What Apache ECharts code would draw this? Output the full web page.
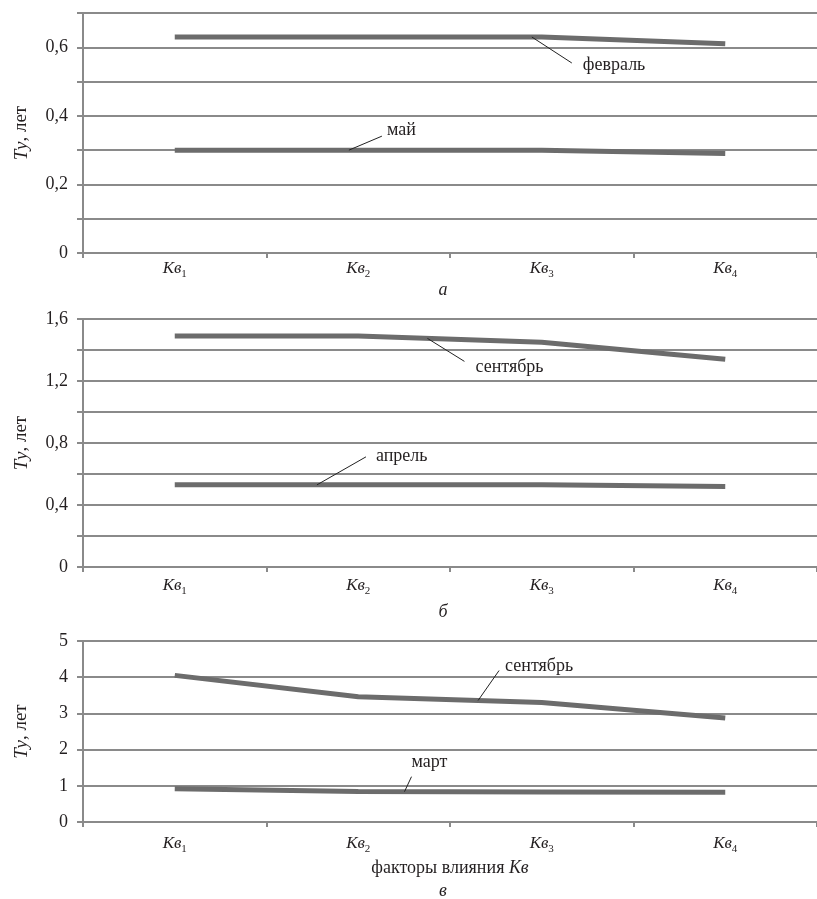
<!DOCTYPE html>
<html>
<head>
<meta charset="utf-8">
<script src="https://cdn.jsdelivr.net/npm/echarts@6/dist/echarts.min.js"></script>
<style>
html,body{margin:0;padding:0;background:#fff;}
#chart{width:817px;height:899px;}
</style>
</head>
<body>
<div id="chart"></div>
<script>
// ---- data ----
const categories = ['Кв1', 'Кв2', 'Кв3', 'Кв4'];
// panel а
const febA = [0.63, 0.63, 0.63, 0.61];
const mayA = [0.30, 0.30, 0.30, 0.29];
// panel б
const sepB = [1.49, 1.49, 1.45, 1.34];
const aprB = [0.53, 0.53, 0.53, 0.52];
// panel в
const sepC = [4.05, 3.46, 3.30, 2.87];
const marC = [0.92, 0.84, 0.83, 0.82];
const panelCaptions = ['а', 'б', 'в'];

const FONT = "'Liberation Serif','Times New Roman',serif";
const TXT = '#231f20';
const GRID_C = '#8a8a8a';
const LINE_C = '#6c6c6c';

const grids = [
  {left: 83, top: 13, width: 738, height: 240},
  {left: 83, top: 319, width: 738, height: 248},
  {left: 83, top: 641, width: 738, height: 181}
];

function catLabel(v) {
  return '{i|' + v.slice(0, 2) + '}{s|' + v.slice(2) + '}';
}
const catRich = {
  i: {fontFamily: FONT, fontStyle: 'italic', fontSize: 17, color: TXT, lineHeight: 19, padding: [0, 0, 3, 0], verticalAlign: 'bottom'},
  s: {fontFamily: FONT, fontSize: 11, color: TXT, lineHeight: 12, verticalAlign: 'bottom'}
};

function xAxisFor(gi, margin, extra) {
  return Object.assign({
    type: 'category', gridIndex: gi, data: categories, boundaryGap: true,
    axisLine: {lineStyle: {color: GRID_C, width: 2}},
    axisTick: {show: true, length: 5, lineStyle: {color: GRID_C, width: 2}},
    axisLabel: {margin: margin, formatter: catLabel, rich: catRich},
    splitLine: {show: false}
  }, extra || {});
}

const yName = '{it|Ту}{n|, лет}';
const yNameStyle = {
  rich: {
    it: {fontFamily: FONT, fontStyle: 'italic', fontSize: 19, color: TXT},
    n: {fontFamily: FONT, fontSize: 19, color: TXT}
  }
};
function fmtComma(v, step) {
  const k = Math.round(v / step);
  if (k % 2 !== 0) return '';
  if (Math.abs(v) < 1e-9) return '0';
  return v.toFixed(1).replace('.', ',');
}
function yAxisFor(gi, max, interval, labelFn) {
  return {
    type: 'value', gridIndex: gi, min: 0, max: max, interval: interval,
    name: yName, nameLocation: 'middle', nameGap: 52, nameRotate: 90,
    nameTextStyle: yNameStyle,
    axisLine: {show: true, lineStyle: {color: GRID_C, width: 2}},
    axisTick: {show: true, length: 6, lineStyle: {color: GRID_C, width: 2}},
    axisLabel: {fontFamily: FONT, fontSize: 18, color: TXT, margin: 15, formatter: labelFn},
    splitLine: {show: true, lineStyle: {color: GRID_C, width: 2}}
  };
}

function lineSeries(xi, data) {
  return {
    type: 'line', xAxisIndex: xi, yAxisIndex: xi, data: data,
    symbol: 'none', smooth: false, silent: true,
    lineStyle: {color: LINE_C, width: 5, cap: 'butt'},
    emphasis: {disabled: true}
  };
}

const chart = echarts.init(document.getElementById('chart'), null, {renderer: 'canvas'});
const option = {
  animation: false,
  backgroundColor: '#fff',
  grid: grids,
  xAxis: [
    xAxisFor(0, 8),
    xAxisFor(1, 11),
    xAxisFor(2, 14, {
      name: '{n|факторы влияния }{it|Кв}', nameLocation: 'middle', nameGap: 37,
      nameTextStyle: {rich: {
        n: {fontFamily: FONT, fontSize: 18, color: TXT},
        it: {fontFamily: FONT, fontStyle: 'italic', fontSize: 18, color: TXT}
      }}
    })
  ],
  yAxis: [
    yAxisFor(0, 0.7, 0.1, v => fmtComma(v, 0.1)),
    yAxisFor(1, 1.6, 0.2, v => fmtComma(v, 0.2)),
    yAxisFor(2, 5, 1, v => String(Math.round(v)))
  ],
  series: [
    lineSeries(0, febA),
    lineSeries(0, mayA),
    lineSeries(1, sepB),
    lineSeries(1, aprB),
    lineSeries(2, sepC),
    lineSeries(2, marC)
  ]
};
chart.setOption(option);

// ---- annotations (leader lines anchored to the series via the library's scales) ----
const annotations = [
  {series: 0, pos: 1.946, dx: 40, dy: 26, text: 'февраль', tx: 11, ty: 2},
  {series: 1, pos: 0.949, dx: 33, dy: -14, text: 'май', tx: 5, ty: -6},
  {series: 2, pos: 1.377, dx: 37, dy: 23, text: 'сентябрь', tx: 11, ty: 6},
  {series: 3, pos: 0.775, dx: 49, dy: -28, text: 'апрель', tx: 10, ty: -1},
  {series: 4, pos: 1.653, dx: 21, dy: -30, text: 'сентябрь', tx: 6, ty: -4},
  {series: 5, pos: 1.252, dx: 7, dy: -15, text: 'март', tx: 0, ty: -14}
];
const seriesData = [febA, mayA, sepB, aprB, sepC, marC];
const graphics = [];
annotations.forEach(a => {
  const d = seriesData[a.series];
  const i0 = Math.floor(a.pos), t = a.pos - i0;
  const p0 = chart.convertToPixel({seriesIndex: a.series}, [i0, d[i0]]);
  const p1 = chart.convertToPixel({seriesIndex: a.series}, [i0 + 1, d[i0 + 1]]);
  const ax = p0[0] + (p1[0] - p0[0]) * t;
  const ay = p0[1] + (p1[1] - p0[1]) * t;
  const ex = ax + a.dx, ey = ay + a.dy;
  graphics.push({
    type: 'line', silent: true, z: 10,
    shape: {x1: ax, y1: ay, x2: ex, y2: ey},
    style: {stroke: '#222', lineWidth: 1}
  });
  graphics.push({
    type: 'text', silent: true, z: 10,
    x: ex + a.tx, y: ey + a.ty,
    style: {text: a.text, font: '18px ' + FONT, fill: TXT, textAlign: 'left', textVerticalAlign: 'middle'}
  });
});
// panel captions under each grid
const captionY = [290, 612, 891];
panelCaptions.forEach((c, k) => {
  graphics.push({
    type: 'text', silent: true,
    x: 443, y: captionY[k],
    style: {text: c, font: 'italic 18px ' + FONT, fill: TXT, textAlign: 'center', textVerticalAlign: 'middle'}
  });
});
chart.setOption({graphic: graphics});
</script>
</body>
</html>
